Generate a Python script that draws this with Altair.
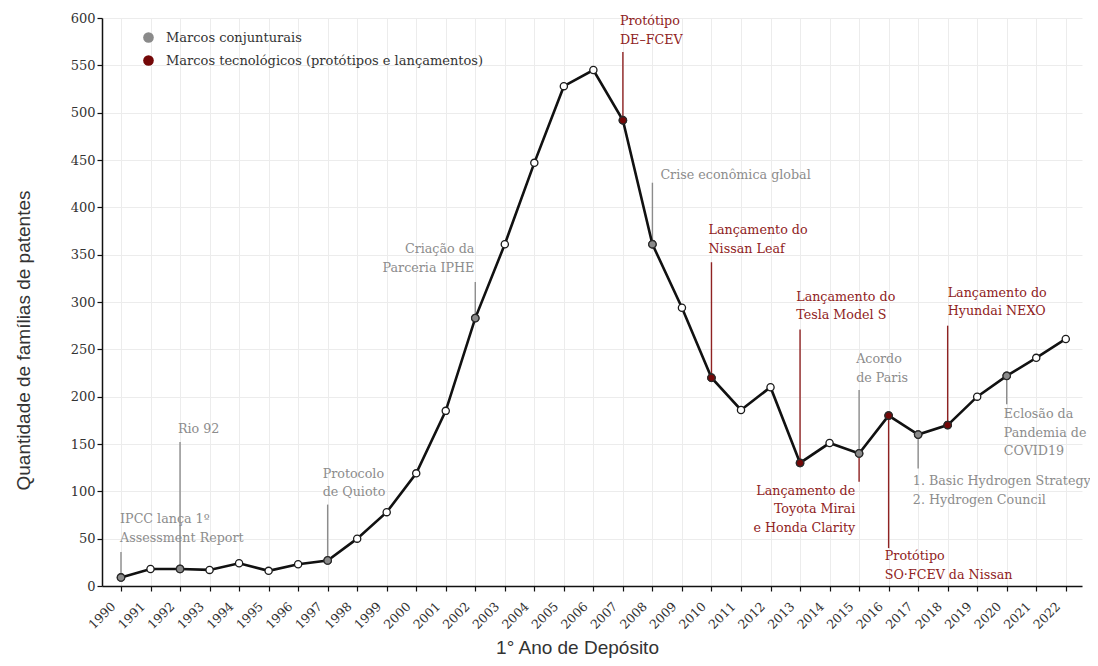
import altair as alt
import pandas as pd

# ---------------- data ----------------
years = list(range(1990, 2023))
patent_families = [9, 18, 18, 17, 24, 16, 23, 27, 50, 78, 119, 185, 283, 361, 447,
                   528, 545, 492, 361, 294, 220, 186, 210, 130, 151, 140, 180, 160,
                   170, 200, 222, 241, 261]

legend_labels = ["Marcos conjunturais", "Marcos tecnológicos (protótipos e lançamentos)"]
conjuntural_years = [1990, 1992, 1997, 2002, 2008, 2015, 2017, 2020]
technological_years = [2007, 2010, 2013, 2016, 2018]

y_tick_values = [0, 50, 100, 150, 200, 250, 300, 350, 400, 450, 500, 550, 600]

# annotations (year of milestone, text, kind 0 = conjuntural, 1 = tecnológico)
ann_year = [1990, 1992, 1997, 2002, 2007, 2008, 2010, 2013, 2015, 2015, 2016, 2017, 2018, 2020]
ann_text = [
    "IPCC lança 1º\nAssessment Report",
    "Rio 92",
    "Protocolo\nde Quioto",
    "Criação da\nParceria IPHE",
    "Protótipo\nDE–FCEV",
    "Crise econômica global",
    "Lançamento do\nNissan Leaf",
    "Lançamento do\nTesla Model S",
    "Acordo\nde Paris",
    "Lançamento de\nToyota Mirai\ne Honda Clarity",
    "Protótipo\nSO·FCEV da Nissan",
    "1. Basic Hydrogen Strategy\n2. Hydrogen Council",
    "Lançamento do\nHyundai NEXO",
    "Eclosão da\nPandemia de\nCOVID19",
]
ann_kind = [0, 0, 0, 0, 1, 0, 1, 1, 0, 1, 1, 0, 1, 0]
# leader-line end (data units) and label anchor (data units)
ann_rule_end = [36, 152, 86, 321, 564, 426, 342, 271, 207, 110, 40, 124, 275, 192]
ann_label_x = [1989.97, 1991.93, 1996.83, 2001.97, 2006.9, 2008.27, 2009.9, 2012.87,
               2014.9, 2014.87, 2015.87, 2016.82, 2018.0, 2019.9]
ann_label_y = [77, 172, 125, 362, 603, 441, 382, 312, 246, 107, 38, 117, 316, 188]
ann_align = ["left", "left", "left", "right", "left", "left", "left", "left",
             "left", "right", "left", "left", "left", "left"]
ann_kind_names = ["conjuntural", "tecnologico"]

# ---------------- tables ----------------
def kind_of(y):
    if y in conjuntural_years:
        return legend_labels[0]
    if y in technological_years:
        return legend_labels[1]
    return ""

df = pd.DataFrame({"ano": years, "qtd": patent_families})
df["marco"] = [kind_of(y) for y in years]
value_by_year = dict(zip(years, patent_families))

ann = pd.DataFrame({
    "ano": ann_year,
    "texto": ann_text,
    "tipo": [ann_kind_names[k] for k in ann_kind],
    "y_ini": [value_by_year[y] for y in ann_year],
    "y_fim": ann_rule_end,
    "lx": ann_label_x,
    "ly": ann_label_y,
    "alinh": ann_align,
})

# ---------------- style ----------------
SERIF = "DejaVu Serif"
SANS = "Liberation Sans"
GRAY_PT, RED_PT = "#8a8a8a", "#740808"
GRAY_TXT, RED_TXT = "#8c8c8c", "#8f2222"

xscale = alt.Scale(domain=[1989.357, 2022.55], nice=False, zero=False)
yscale = alt.Scale(domain=[0, 600], nice=False)

x_axis = alt.Axis(values=years, format="d", title="1° Ano de Depósito",
                  labelAngle=-45, labelAlign="right", labelBaseline="middle",
                  labelOffset=-8, labelPadding=13, labelOverlap=False, labelFont=SERIF,
                  labelFontSize=12.5, labelColor="#333333", grid=True,
                  titleX=475, titleY=67, titleBaseline="alphabetic", titleFont=SANS,
                  titleFontSize=19, titleFontWeight="normal", titleColor="#333333")
y_axis = alt.Axis(values=y_tick_values, title="Quantidade de famílias de patentes",
                  grid=True, labelFont=SERIF, labelFontSize=13, labelColor="#333333",
                  labelPadding=2, titleX=-69, titleY=322, titleAngle=-90, titleAlign="center",
                  titleFont=SANS, titleFontSize=19, titleFontWeight="normal",
                  titleColor="#333333")


def X(field):
    return alt.X(field, type="quantitative", scale=xscale, axis=x_axis)


def Y(field):
    return alt.Y(field, type="quantitative", scale=yscale, axis=y_axis)


ann_color = alt.Color("tipo:N", scale=alt.Scale(domain=ann_kind_names, range=[GRAY_TXT, RED_TXT]),
                      legend=None)

rules = alt.Chart(ann).mark_rule(strokeWidth=1.4).encode(
    x=X("ano"), y=Y("y_ini"), y2="y_fim:Q", color=ann_color,
)

line = alt.Chart(df).mark_line(color="#111111", strokeWidth=2.6).encode(
    x=X("ano"), y=Y("qtd"),
)

pts = alt.Chart(df).mark_circle(size=52, fill="white", stroke="#1a1a1a", strokeWidth=1.3,
                                opacity=1).encode(x=X("ano"), y=Y("qtd"))

marks = alt.Chart(df).transform_filter("datum.marco != ''").mark_circle(
    size=56, stroke="#2a2a2a", strokeWidth=1.3, opacity=1).encode(
    x=X("ano"), y=Y("qtd"),
    fill=alt.Fill("marco:N", scale=alt.Scale(domain=legend_labels, range=[GRAY_PT, RED_PT]),
                  legend=alt.Legend(title=None, orient="none", legendX=40, legendY=13,
                                    symbolType="circle", symbolSize=113, symbolStrokeWidth=0,
                                    symbolOpacity=1, labelFont=SERIF, labelFontSize=13,
                                    labelColor="#333333", labelOffset=11, rowPadding=9,
                                    labelLimit=600)),
)


def ann_text_layer(al):
    return alt.Chart(ann).transform_filter(f"datum.alinh == '{al}'").mark_text(
        align=al, baseline="top", lineBreak="\n", font=SERIF, fontSize=12.7, lineHeight=18.5
    ).encode(x=X("lx"), y=Y("ly"), text="texto:N", color=ann_color)


chart = alt.layer(rules, line, pts, marks, ann_text_layer("left"), ann_text_layer("right")).properties(
    width=980, height=568,
    autosize=alt.AutoSizeParams(type="none"),
    padding={"left": 94, "top": 10, "right": 8, "bottom": 72},
    background="white",
).configure_view(stroke=None).configure_axis(
    domainColor="#111111", domainWidth=1.5, tickColor="#111111", tickSize=5, tickWidth=1.2,
    gridColor="#ececec", gridWidth=1,
)

chart.save("out.html", embed_options={"renderer": "svg", "actions": False})
